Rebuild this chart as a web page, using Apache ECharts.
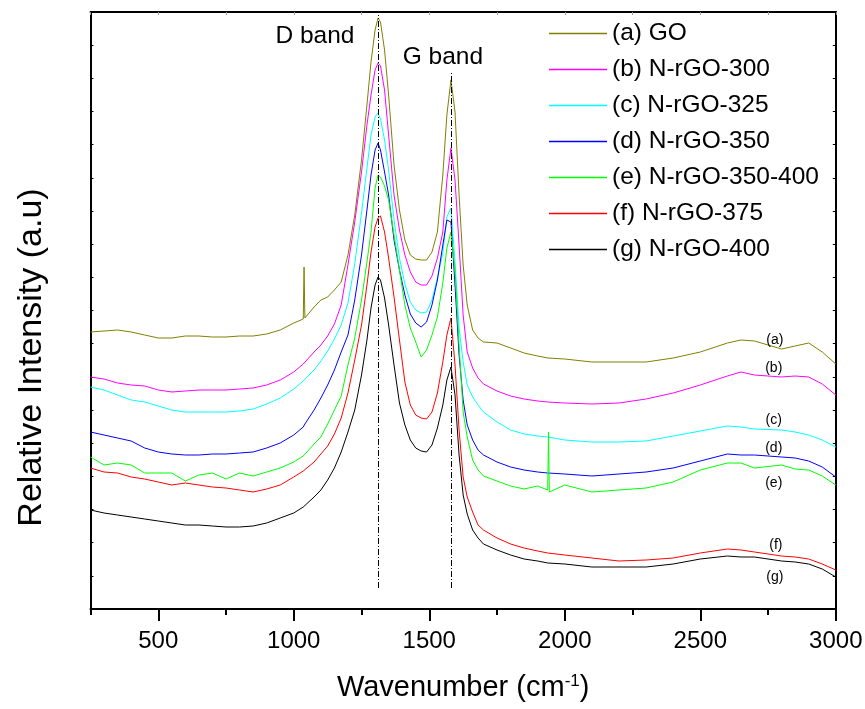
<!DOCTYPE html>
<html>
<head>
<meta charset="utf-8">
<script src="https://cdn.jsdelivr.net/npm/echarts@6/dist/echarts.min.js"></script>
<style>
html,body{margin:0;padding:0;background:#fff;}
#chart{width:865px;height:709px;}
</style>
</head>
<body>
<div id="chart"></div>
<script>
// Raman shift (cm-1)
const wavenumber = [250,300,350,400,450,500,550,600,650,700,750,800,850,900,950,1000,
  1035,1038,1041,1075,1100,1125,1150,1175,1200,1225,1250,1270,1285,1300,1311,1320,1335,1350,
  1370,1390,1410,1430,1450,1470,1490,1510,1530,1550,1565,1580,1595,1610,1625,1640,1660,1680,1700,
  1750,1800,1850,1900,1937,1940,1943,2000,2100,2200,2300,2400,2500,2600,2650,2700,2800,2850,2900,2950,3000];

// Relative intensity (a.u.), stacked spectra
const intGO = [277,278,279,277,274,271,271,273,273,272,272,273,273,275,279,286,
  290,342,291,302,309,312,319,327,354,394,449,504,547,579,591,587,559,514,
  444,399,369,354,350,349,349,357,377,434,494,529,497,414,344,304,279,271,267,
  266,261,256,253,251,251,251,250,247,247,247,251,257,266,269,268,260,263,266,257,245];
const int300 = [232,230,226,224,223,219,217,218,219,219,219,220,221,224,229,237,
  245,245,246,257,264,273,285,304,344,387,437,484,514,539,546,543,519,474,
  414,379,354,337,327,324,324,333,351,377,429,461,429,364,294,257,241,231,225,
  218,213,210,208,207,207,207,206,205,206,210,216,224,233,237,234,232,233,232,225,214];
const int325 = [222,219,214,209,207,203,199,197,197,197,197,198,200,205,211,220,
  228,229,230,239,248,258,270,284,306,345,396,441,474,492,496,490,469,439,
  389,351,325,307,299,296,297,309,331,356,392,401,347,281,247,224,212,204,197,
  187,179,175,173,172,172,172,169,167,167,168,173,178,183,182,180,179,177,174,169,162];
const int350 = [177,174,171,168,161,157,155,154,154,155,155,156,157,161,166,174,
  182,184,185,199,211,224,239,257,274,309,354,399,434,459,466,459,437,414,
  369,339,314,295,286,282,287,304,329,364,389,387,324,254,209,184,169,159,154,
  147,142,139,137,136,136,136,135,133,135,137,141,148,155,154,154,152,151,148,142,132];
const int350400 = [152,144,146,144,136,136,136,128,134,136,130,136,133,137,141,147,
  153,154,155,165,172,185,199,213,244,271,309,347,377,421,434,432,423,409,
  374,339,304,281,267,252,259,274,292,326,361,377,339,264,197,172,149,139,133,
  128,123,120,123,119,177,117,124,117,119,121,127,139,146,146,141,144,140,139,133,124];
const int375 = [141,137,136,132,130,127,124,126,124,122,121,119,117,120,124,132,
  138,139,140,147,155,163,175,191,216,249,284,324,357,382,391,393,377,351,
  312,269,227,204,194,191,190,197,216,247,274,291,244,179,132,112,97,84,79,
  71,65,61,58,56,56,56,54,51,48,49,51,56,60,59,57,53,52,50,45,39];
const int400 = [99,96,94,92,90,88,86,84,84,83,82,82,83,86,91,96,
  102,103,104,112,119,129,141,157,177,199,234,269,301,324,332,329,311,284,
  244,206,184,169,161,158,157,164,181,204,229,242,214,154,114,95,79,71,65,
  59,54,50,48,46,46,46,45,42,42,42,45,50,53,52,52,48,47,45,40,32];

const seriesNames = ['(a) GO','(b) N-rGO-300','(c) N-rGO-325','(d) N-rGO-350','(e) N-rGO-350-400','(f) N-rGO-375','(g) N-rGO-400'];
const shortLabels = ['(a)','(b)','(c)','(d)','(e)','(f)','(g)'];
const majorTicks = [500,1000,1500,2000,2500,3000];
const minorTicks = [250,750,1250,1750,2250,2750];
const bandPositions = [1312, 1582];

// annotation anchors in data coordinates
const labelAnchors = [[2775,269],[2771,241],[2771,189],[2771,161],[2771,126],[2779,64],[2775,32]];
const bandTextAnchors = [[1078,573,'D band'],[1550,552,'G band']];
const bandLineExtent = [[21,594],[21,536]];

const allInt = [intGO,int300,int325,int350,int350400,int375,int400];
const colors = ['#808000','#FF00FF','#00FFFF','#0000FF','#00FF00','#FF0000','#000000'];
const FONT = 'Liberation Sans, Arial, sans-serif';

const series = allInt.map((arr,i)=>({
  name: seriesNames[i],
  type: 'line',
  data: wavenumber.map((w,k)=>[w,arr[k]]),
  symbol: 'none',
  showSymbol: false,
  lineStyle: {width: 1, color: colors[i]},
  itemStyle: {color: colors[i]},
  silent: true,
  z: 3,
  markPoint: {
    symbol: 'circle', symbolSize: 0, silent: true, animation:false,
    label: {show:true, position:'inside', color:'#000', fontFamily:FONT, fontSize:14, formatter: shortLabels[i]},
    data: [{coord: labelAnchors[i]}]
  }
}));
// band markers on the last series
series[6].markLine = {
  symbol: ['none','none'], silent: true, animation:false,
  label: {show:false},
  lineStyle: {color:'#000', width:1, type:[6,2,1,2]},
  data: bandPositions.map((b,i)=>[{coord:[b,bandLineExtent[i][0]]},{coord:[b,bandLineExtent[i][1]]}])
};
series[0].markPoint.data.push(...bandTextAnchors.map(t=>({coord:[t[0],t[1]], label:{formatter:t[2], fontSize:24.5}})));

const chart = echarts.init(document.getElementById('chart'), null, {renderer:'canvas'});
chart.setOption({
  animation: false,
  backgroundColor: '#fff',
  textStyle: {fontFamily: FONT},
  grid: {left: 90.5, right: 29.2, top: 12, bottom: 100, containLabel:false, outerBoundsMode:'none'},
  legend: {
    orient: 'vertical', left: 549, top: 21, padding: 0,
    icon: 'rect',
    itemWidth: 58, itemHeight: 1.5, itemGap: 11,
    selectedMode: false,
    textStyle: {fontSize: 24.5, fontFamily: FONT, color:'#000', lineHeight: 25},
    data: seriesNames
  },
  xAxis: [
    {type:'value', position:'bottom', min:250, max:3000,
     axisLine:{show:true, lineStyle:{color:'#000', width:2}},
     axisTick:{show:true, customValues: majorTicks, length:12, lineStyle:{color:'#000', width:2}},
     axisLabel:{show:true, customValues: majorTicks, fontSize:24, margin:20, color:'#000', fontFamily:FONT, formatter: v => String(v)},
     splitLine:{show:false},
     name:'{t|Wavenumber (cm}{s|-1}{t|)}', nameLocation:'middle', nameGap:64,
     nameTextStyle:{rich:{t:{fontSize:29, fontFamily:FONT, color:'#000', verticalAlign:'bottom'}, s:{fontSize:17, fontFamily:FONT, color:'#000', verticalAlign:'top', padding:[0,0,8,0]}}}
    },
    {type:'value', position:'bottom', min:250, max:3000,
     axisLine:{show:false},
     axisTick:{show:true, customValues: minorTicks, length:6, lineStyle:{color:'#000', width:2}},
     axisLabel:{show:false}, splitLine:{show:false}
    },
    {type:'value', position:'top', min:250, max:3000, interval:250,
     axisLine:{show:true, lineStyle:{color:'#000', width:2}},
     axisTick:{show:true, inside:true, length:3, lineStyle:{color:'#999', width:1}},
     axisLabel:{show:false}, splitLine:{show:false}
    }
  ],
  yAxis: [
    {type:'value', min:0, max:597, interval:597/18,
     axisLine:{show:true, lineStyle:{color:'#000', width:2}},
     axisTick:{show:true, inside:true, length:3, lineStyle:{color:'#000', width:1}},
     axisLabel:{show:false}, splitLine:{show:false},
     name:'Relative Intensity (a.u)', nameLocation:'middle', nameGap:42,
     nameTextStyle:{fontSize:34, fontFamily:FONT, color:'#000', padding:[0,94,0,0]}
    },
    {type:'value', position:'right', min:0, max:597, interval:597/18,
     axisLine:{show:true, lineStyle:{color:'#000', width:2}},
     axisTick:{show:true, inside:true, length:3, lineStyle:{color:'#000', width:1}},
     axisLabel:{show:false}, splitLine:{show:false}
    }
  ],
  series: series
});
</script>
</body>
</html>
